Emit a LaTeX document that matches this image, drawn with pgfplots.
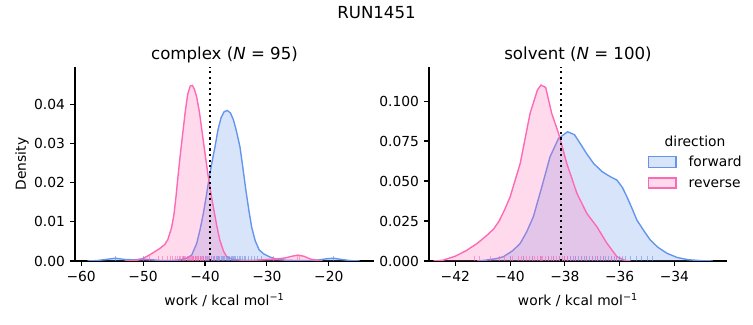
\documentclass[border=0pt]{standalone}
\usepackage{fontspec}
\setmainfont{DejaVu Sans}
\usepackage{pgfplots}
\pgfplotsset{compat=1.18}
\definecolor{fwd}{RGB}{100,149,237}
\definecolor{rev}{RGB}{255,105,180}
\pgfdeclareplotmark{rug}{\pgfpathmoveto{\pgfpointorigin}\pgfpathlineto{\pgfqpoint{0pt}{3.5bp}}\pgfusepathqstroke}
\pgfplotsset{
  panel/.style={
    scale only axis, anchor=south west,
    height=139.68bp,
    axis x line*=bottom, axis y line*=left,
    axis line style={line width=0.8bp},
    tick align=outside, major tick length=3.5bp,
    tick style={black, line width=0.8bp},
    ymin=0, scaled y ticks=false, scaled x ticks=false,
    ticklabel style={font=\fontsize{10}{12}\selectfont},
    xticklabel style={anchor=north, inner sep=0pt, yshift=-3.5bp},
    yticklabel style={anchor=east, inner sep=0pt, xshift=-3.5bp},
    every axis title/.style={at={(axis description cs:0.5,1.041)}, anchor=base, font=\fontsize{12}{14}\selectfont},
    every axis x label/.style={at={(axis description cs:0.5,-0.227)}, anchor=base, font=\fontsize{10}{12}\selectfont},
    every axis y label/.style={at={(axis description cs:-0.164,0.5)}, rotate=90, anchor=base, font=\fontsize{10}{12}\selectfont},
    xlabel={work / kcal mol\textsuperscript{−1}},
  },
  kfill/.style={draw=none, fill=#1, fill opacity=0.25},
  kline/.style={color=#1, line width=1bp, no marks},
  krug/.style={only marks, mark=rug, mark options={draw=#1, line width=0.7bp, draw opacity=0.6}},
  vline/.style={black, line width=1.5bp, dash pattern=on 1.5bp off 2.475bp},
}
\begin{document}
\begin{tikzpicture}
\path[use as bounding box] (0,0) rectangle (542.16bp,234bp);
\node[anchor=base, font=\fontsize{12}{14}\selectfont] at (271.08bp,220.7bp) {RUN1451};

% ---------------- complex ----------------
\begin{axis}[panel, at={(54bp,46.08bp)}, width=215.28bp,
  xmin=-61, xmax=-12.7, ymax=0.0495,
  xtick={-60,-50,-40,-30,-20}, xticklabels={−60,−50,−40,−30,−20},
  ytick={0,0.01,0.02,0.03,0.04}, yticklabels={0.00,0.01,0.02,0.03,0.04},
  title={complex (\textit{N} = 95)}, ylabel={Density}]
% forward (blue)
\addplot[kfill=fwd] coordinates {(-59,0) (-57.5,0.0001) (-56,0.0004) (-54.5,0.0007) (-53,0.0004) (-51.5,0.0003) (-50,0.0005) (-48.5,0.0003) (-47,0.0001) (-45.5,0.0001) (-44,0.0003) (-43,0.0007) (-42.15,0.0015) (-41.34,0.0045) (-40.8,0.0080) (-40.27,0.0121) (-39.8,0.0165) (-39.3,0.0215) (-38.8,0.0258) (-38.39,0.0291) (-37.9,0.0335) (-37.4,0.0366) (-36.9,0.0381) (-36.4,0.0384) (-35.9,0.0378) (-35.4,0.0360) (-34.9,0.0330) (-34.35,0.0291) (-33.9,0.0240) (-33.4,0.0181) (-32.9,0.0128) (-32.47,0.0087) (-31.9,0.0052) (-31.24,0.0028) (-30.5,0.0018) (-29.5,0.0010) (-28.5,0.0005) (-27,0.0002) (-25,0.0001) (-23,0.0001) (-21.5,0.0003) (-20.2,0.0006) (-19.2,0.0007) (-18,0.0004) (-16.5,0.0001) (-15,0)} \closedcycle;
\addplot[kline=fwd] coordinates {(-59,0) (-57.5,0.0001) (-56,0.0004) (-54.5,0.0007) (-53,0.0004) (-51.5,0.0003) (-50,0.0005) (-48.5,0.0003) (-47,0.0001) (-45.5,0.0001) (-44,0.0003) (-43,0.0007) (-42.15,0.0015) (-41.34,0.0045) (-40.8,0.0080) (-40.27,0.0121) (-39.8,0.0165) (-39.3,0.0215) (-38.8,0.0258) (-38.39,0.0291) (-37.9,0.0335) (-37.4,0.0366) (-36.9,0.0381) (-36.4,0.0384) (-35.9,0.0378) (-35.4,0.0360) (-34.9,0.0330) (-34.35,0.0291) (-33.9,0.0240) (-33.4,0.0181) (-32.9,0.0128) (-32.47,0.0087) (-31.9,0.0052) (-31.24,0.0028) (-30.5,0.0018) (-29.5,0.0010) (-28.5,0.0005) (-27,0.0002) (-25,0.0001) (-23,0.0001) (-21.5,0.0003) (-20.2,0.0006) (-19.2,0.0007) (-18,0.0004) (-16.5,0.0001) (-15,0)};
% reverse (pink)
\addplot[kfill=rev] coordinates {(-53,0) (-51,0.0002) (-50,0.0007) (-49,0.0015) (-48,0.0025) (-47.3,0.0032) (-46.5,0.0042) (-46,0.0055) (-45.4,0.0085) (-45,0.0120) (-44.7,0.0162) (-44.4,0.0210) (-44,0.0270) (-43.6,0.0325) (-43.2,0.0380) (-42.8,0.0425) (-42.4,0.0446) (-42.05,0.0448) (-41.7,0.0438) (-41.34,0.0418) (-40.9,0.0380) (-40.5,0.0333) (-40,0.0275) (-39.5,0.0218) (-39,0.0168) (-38.6,0.0133) (-38.1,0.0090) (-37.6,0.0053) (-37,0.0025) (-36.5,0.0011) (-35.5,0.0004) (-34,0.0002) (-32,0.0002) (-30,0.0004) (-28.5,0.0005) (-27,0.0008) (-26,0.0012) (-25,0.0015) (-24,0.0012) (-23,0.0005) (-22,0.0002) (-21,0)} \closedcycle;
\addplot[kline=rev] coordinates {(-53,0) (-51,0.0002) (-50,0.0007) (-49,0.0015) (-48,0.0025) (-47.3,0.0032) (-46.5,0.0042) (-46,0.0055) (-45.4,0.0085) (-45,0.0120) (-44.7,0.0162) (-44.4,0.0210) (-44,0.0270) (-43.6,0.0325) (-43.2,0.0380) (-42.8,0.0425) (-42.4,0.0446) (-42.05,0.0448) (-41.7,0.0438) (-41.34,0.0418) (-40.9,0.0380) (-40.5,0.0333) (-40,0.0275) (-39.5,0.0218) (-39,0.0168) (-38.6,0.0133) (-38.1,0.0090) (-37.6,0.0053) (-37,0.0025) (-36.5,0.0011) (-35.5,0.0004) (-34,0.0002) (-32,0.0002) (-30,0.0004) (-28.5,0.0005) (-27,0.0008) (-26,0.0012) (-25,0.0015) (-24,0.0012) (-23,0.0005) (-22,0.0002) (-21,0)};
% rugs
\addplot[krug=fwd] coordinates {(-54.5,0) (-50,0) (-43.5,0) (-41.5,0) (-40.8,0) (-40.3,0) (-40,0) (-39.6,0) (-39.3,0) (-39,0) (-38.7,0) (-38.5,0) (-38.2,0) (-38,0) (-37.8,0) (-37.6,0) (-37.4,0) (-37.2,0) (-37,0) (-36.8,0) (-36.6,0) (-36.4,0) (-36.2,0) (-36,0) (-35.8,0) (-35.6,0) (-35.4,0) (-35.2,0) (-35,0) (-34.8,0) (-34.5,0) (-34.2,0) (-34,0) (-33.7,0) (-33.4,0) (-33,0) (-32.5,0) (-32,0) (-31.5,0) (-30.8,0) (-19.2,0)};
\addplot[krug=rev] coordinates {(-49,0) (-47.5,0) (-46.8,0) (-46,0) (-45.5,0) (-45.2,0) (-44.8,0) (-44.5,0) (-44.2,0) (-44,0) (-43.7,0) (-43.5,0) (-43.3,0) (-43.1,0) (-42.9,0) (-42.7,0) (-42.5,0) (-42.4,0) (-42.2,0) (-42.1,0) (-42,0) (-41.9,0) (-41.8,0) (-41.6,0) (-41.5,0) (-41.4,0) (-41.2,0) (-41.1,0) (-41,0) (-40.8,0) (-40.6,0) (-40.4,0) (-40.2,0) (-40,0) (-39.7,0) (-39.4,0) (-39,0) (-38.5,0) (-37.8,0) (-29,0) (-25,0) (-24.7,0)};
\addplot[vline] coordinates {(-39.2,0) (-39.2,0.0495)};
\end{axis}

% ---------------- solvent ----------------
\begin{axis}[panel, at={(308.88bp,46.08bp)}, width=214.56bp,
  xmin=-42.96, xmax=-32.08, ymax=0.1213,
  xtick={-42,-40,-38,-36,-34}, xticklabels={−42,−40,−38,−36,−34},
  ytick={0,0.025,0.05,0.075,0.1}, yticklabels={0.000,0.025,0.050,0.075,0.100},
  title={solvent (\textit{N} = 100)}]
% forward (blue)
\addplot[kfill=fwd] coordinates {(-41.2,0) (-40.9,0.0005) (-40.5,0.0015) (-40.24,0.0027) (-39.9,0.0065) (-39.63,0.0110) (-39.4,0.0180) (-39.15,0.0277) (-38.84,0.0464) (-38.54,0.0652) (-38.23,0.0767) (-37.9,0.0808) (-37.65,0.0790) (-37.44,0.0735) (-37.2,0.0670) (-36.95,0.0610) (-36.65,0.0560) (-36.34,0.0527) (-36.1,0.0506) (-35.9,0.0460) (-35.73,0.0400) (-35.55,0.0330) (-35.37,0.0256) (-35.1,0.0185) (-34.88,0.0131) (-34.6,0.0085) (-34.27,0.0048) (-33.9,0.0022) (-33.5,0.0008) (-33,0.0002) (-32.6,0)} \closedcycle;
\addplot[kline=fwd] coordinates {(-41.2,0) (-40.9,0.0005) (-40.5,0.0015) (-40.24,0.0027) (-39.9,0.0065) (-39.63,0.0110) (-39.4,0.0180) (-39.15,0.0277) (-38.84,0.0464) (-38.54,0.0652) (-38.23,0.0767) (-37.9,0.0808) (-37.65,0.0790) (-37.44,0.0735) (-37.2,0.0670) (-36.95,0.0610) (-36.65,0.0560) (-36.34,0.0527) (-36.1,0.0506) (-35.9,0.0460) (-35.73,0.0400) (-35.55,0.0330) (-35.37,0.0256) (-35.1,0.0185) (-34.88,0.0131) (-34.6,0.0085) (-34.27,0.0048) (-33.9,0.0022) (-33.5,0.0008) (-33,0.0002) (-32.6,0)};
% reverse (pink)
\addplot[kfill=rev] coordinates {(-42.8,0) (-42.45,0.0005) (-42,0.0030) (-41.6,0.0065) (-41.2,0.0110) (-40.85,0.0160) (-40.6,0.0200) (-40.4,0.0250) (-40.2,0.0320) (-40,0.0400) (-39.63,0.0610) (-39.27,0.0923) (-39,0.1070) (-38.87,0.1100) (-38.7,0.1085) (-38.48,0.0923) (-38.23,0.0798) (-37.93,0.0610) (-37.56,0.0423) (-37.2,0.0298) (-36.83,0.0214) (-36.46,0.0110) (-36.1,0.0027) (-35.8,0.0003) (-35.6,0)} \closedcycle;
\addplot[kline=rev] coordinates {(-42.8,0) (-42.45,0.0005) (-42,0.0030) (-41.6,0.0065) (-41.2,0.0110) (-40.85,0.0160) (-40.6,0.0200) (-40.4,0.0250) (-40.2,0.0320) (-40,0.0400) (-39.63,0.0610) (-39.27,0.0923) (-39,0.1070) (-38.87,0.1100) (-38.7,0.1085) (-38.48,0.0923) (-38.23,0.0798) (-37.93,0.0610) (-37.56,0.0423) (-37.2,0.0298) (-36.83,0.0214) (-36.46,0.0110) (-36.1,0.0027) (-35.8,0.0003) (-35.6,0)};
% rugs
\addplot[krug=fwd] coordinates {(-40,0) (-39.5,0) (-39.2,0) (-38.9,0) (-38.6,0) (-38.4,0) (-38.2,0) (-38,0) (-37.9,0) (-37.8,0) (-37.7,0) (-37.6,0) (-37.5,0) (-37.4,0) (-37.3,0) (-37.2,0) (-37.1,0) (-37,0) (-36.9,0) (-36.8,0) (-36.7,0) (-36.6,0) (-36.5,0) (-36.4,0) (-36.3,0) (-36.2,0) (-36.1,0) (-36,0) (-35.9,0) (-35.8,0) (-35.6,0) (-35.4,0) (-35.2,0) (-35,0) (-34.8,0)};
\addplot[krug=rev] coordinates {(-41.3,0) (-41.1,0) (-40.7,0) (-40.4,0) (-40.2,0) (-40,0) (-39.9,0) (-39.7,0) (-39.6,0) (-39.5,0) (-39.4,0) (-39.3,0) (-39.2,0) (-39.1,0) (-39,0) (-38.9,0) (-38.85,0) (-38.8,0) (-38.7,0) (-38.6,0) (-38.5,0) (-38.4,0) (-38.3,0) (-38.2,0) (-38.1,0) (-38,0) (-37.9,0) (-37.8,0) (-37.6,0) (-37.4,0) (-37.2,0) (-37,0) (-36.8,0) (-36.6,0) (-36.3,0) (-36.1,0)};
\addplot[vline] coordinates {(-38.14,0) (-38.14,0.1213)};
\end{axis}

% ---------------- legend ----------------
\begin{scope}[font=\fontsize{10}{12}\selectfont]
\node[anchor=base, inner sep=0pt] at (500.4bp,128.4bp) {direction};
\filldraw[draw=fwd, fill=fwd, fill opacity=0.25, line width=1bp] (466.8bp,113.4bp) rectangle (486.7bp,121.5bp);
\filldraw[draw=rev, fill=rev, fill opacity=0.25, line width=1bp] (466.8bp,98.64bp) rectangle (486.7bp,105.84bp);
\node[anchor=base west, inner sep=0pt] at (495.6bp,113.98bp) {forward};
\node[anchor=base west, inner sep=0pt] at (495.6bp,99.14bp) {reverse};
\end{scope}
\end{tikzpicture}
\end{document}
